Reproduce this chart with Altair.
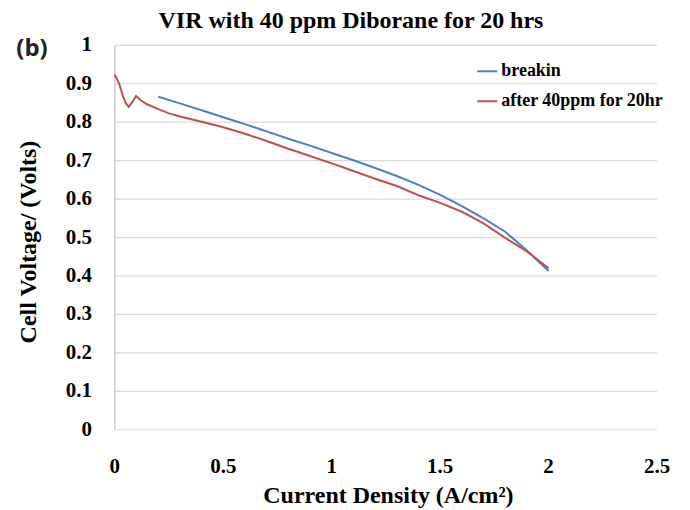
import altair as alt
import pandas as pd

# breakin curve
breakin_x = [0.2, 0.3, 0.4, 0.5, 0.6, 0.7, 0.8, 0.9, 1.0, 1.1, 1.2, 1.3, 1.4, 1.5, 1.6, 1.7, 1.8, 1.9, 2.0]
breakin_v = [0.866, 0.849, 0.831, 0.813, 0.795, 0.776, 0.757, 0.739, 0.720, 0.701, 0.681, 0.660, 0.637, 0.611, 0.582, 0.550, 0.515, 0.466, 0.413]

# after 40 ppm for 20 hr
after_x = [0.0, 0.02, 0.036, 0.05, 0.064, 0.08, 0.098, 0.12, 0.144, 0.2, 0.25, 0.3, 0.4, 0.5, 0.6, 0.7,
           0.8, 0.9, 1.0, 1.1, 1.2, 1.3, 1.4, 1.5, 1.6, 1.7, 1.8, 1.9, 2.0]
after_v = [0.924, 0.900, 0.870, 0.850, 0.840, 0.852, 0.868, 0.857, 0.848, 0.834, 0.823, 0.815, 0.801, 0.787,
           0.770, 0.751, 0.731, 0.712, 0.693, 0.673, 0.653, 0.634, 0.610, 0.590, 0.567, 0.537, 0.499, 0.464, 0.420]

series_names = ["breakin", "after 40ppm for 20hr"]
series_colors = ["#4f81bd", "#c0504d"]

x_ticks = [0, 0.5, 1, 1.5, 2, 2.5]
x_tick_labels = ["0", "0.5", "1", "1.5", "2", "2.5"]
y_ticks = [0, 0.1, 0.2, 0.3, 0.4, 0.5, 0.6, 0.7, 0.8, 0.9, 1]
y_tick_labels = ["0", "0.1", "0.2", "0.3", "0.4", "0.5", "0.6", "0.7", "0.8", "0.9", "1"]

x_title = "Current Density (A/cm²)"
y_title = "Cell Voltage/ (Volts)"
chart_title = "VIR with 40 ppm Diborane for 20 hrs"
panel_label = "(b)"

rows = []
for i, (x, v) in enumerate(zip(breakin_x, breakin_v)):
    rows.append({"series": series_names[0], "x": x, "v": v, "o": i})
for i, (x, v) in enumerate(zip(after_x, after_v)):
    rows.append({"series": series_names[1], "x": x, "v": v, "o": i})
df = pd.DataFrame(rows)

SERIF = "Times New Roman"
W, H = 543, 385
xscale = alt.Scale(domain=[0, 2.5], nice=False)
yscale = alt.Scale(domain=[0, 1], nice=False)

# horizontal gridlines at the y ticks (through the y scale)
grid = alt.Chart(pd.DataFrame({"v": y_ticks})).mark_rule(color="#d9d9d9", strokeWidth=1.2).encode(
    y=alt.Y("v:Q", scale=yscale, axis=None), x=alt.value(0), x2=alt.value(W))

# left axis line
y_domain = alt.Chart(pd.DataFrame({"v": [0]})).mark_rule(color="#bfbfbf", strokeWidth=1.2).encode(
    x=alt.value(0), y=alt.value(0), y2=alt.value(H))

lines = alt.Chart(df).mark_line(strokeWidth=2).encode(
    x=alt.X("x:Q", scale=xscale, axis=None),
    y=alt.Y("v:Q", scale=yscale, axis=None),
    color=alt.Color("series:N", scale=alt.Scale(domain=series_names, range=series_colors),
                    legend=alt.Legend(title=None, orient="none", legendX=362, legendY=15,
                                      symbolType="stroke", symbolSize=400, symbolStrokeWidth=2,
                                      labelFont=SERIF, labelFontWeight="bold", labelFontSize=18,
                                      labelColor="black", labelOffset=3, rowPadding=10, labelLimit=400)),
    order="o:Q",
)

# tick labels placed through the same scales
x_labels = alt.Chart(pd.DataFrame({"x": x_ticks, "t": x_tick_labels})).mark_text(
    font=SERIF, fontWeight="bold", fontSize=21, color="black", align="center", baseline="middle"
).encode(x=alt.X("x:Q", scale=xscale, axis=None), y=alt.value(422), text="t:N")

y_labels = alt.Chart(pd.DataFrame({"v": y_ticks, "t": y_tick_labels})).mark_text(
    font=SERIF, fontWeight="bold", fontSize=21, color="black", align="right", baseline="middle"
).encode(y=alt.Y("v:Q", scale=yscale, axis=None), x=alt.value(-23), text="t:N")

x_title_mark = alt.Chart(pd.DataFrame({"t": [x_title]})).mark_text(
    font=SERIF, fontWeight="bold", fontSize=24, color="black", align="center", baseline="middle"
).encode(text="t:N", x=alt.value(274), y=alt.value(451))

y_title_mark = alt.Chart(pd.DataFrame({"t": [y_title]})).mark_text(
    font=SERIF, fontWeight="bold", fontSize=24, color="black", align="center", baseline="middle", angle=270
).encode(text="t:N", x=alt.value(-86), y=alt.value(197))

label_b = alt.Chart(pd.DataFrame({"t": [panel_label]})).mark_text(
    font="Open Sans", fontWeight="bold", fontSize=24, align="center", baseline="middle", color="#222"
).encode(text="t:N", x=alt.value(-83), y=alt.value(4))

chart = alt.layer(grid, y_domain, lines, x_labels, y_labels, x_title_mark, y_title_mark, label_b).properties(
    width=W, height=H,
    title=alt.TitleParams(chart_title, anchor="middle", frame="group", dx=-35, dy=26,
                          font=SERIF, fontSize=24, fontWeight="bold", color="black",
                          baseline="alphabetic", offset=8),
    autosize=alt.AutoSizeParams(type="none"),
    padding={"left": 107, "top": 37, "right": 25, "bottom": 79},
).configure(font=SERIF).configure_view(stroke=None)

chart.save("out.html", embed_options={"renderer": "svg", "actions": False})
